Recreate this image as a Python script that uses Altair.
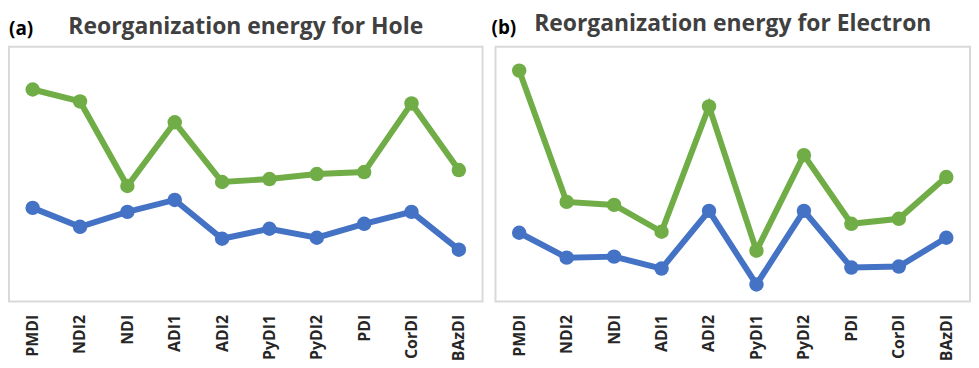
import altair as alt
import pandas as pd

molecules = ["PMDI", "NDI2", "NDI", "ADI1", "ADI2", "PyDI1", "PyDI2", "PDI", "CorDI", "BAzDI"]
series_names = ["Series 1", "Series 2"]
# relative heights (no y axis in the original)
hole_s1 = [213, 201, 116, 180, 120, 123, 128, 130, 199, 132]
hole_s2 = [94, 75, 90, 102, 63, 73, 64, 78, 90, 52]
elec_s1 = [232, 100, 97, 70, 196, 51, 147, 78, 83, 125]
elec_s2 = [69, 44, 45, 33, 91, 17, 91, 34, 35, 64]
titles = ["Reorganization energy for Hole", "Reorganization energy for Electron"]
panel_tags = ["(a)", "(b)"]
colors = ["#70AD47", "#4472C4"]


def make_df(s1, s2):
    rows = []
    for name, vals in zip(series_names, [s1, s2]):
        for m, v in zip(molecules, vals):
            rows.append({"molecule": m, "series": name, "value": v})
    return pd.DataFrame(rows)


def panel(df, title, tag, width, title_y, tag_x, tag_y):
    base = alt.Chart(df).mark_line(
        strokeWidth=6,
        point=alt.OverlayMarkDef(size=210, filled=True, opacity=1),
    ).encode(
        x=alt.X(
            "molecule:N",
            sort=molecules,
            scale=alt.Scale(type="point", padding=0.5),
            axis=alt.Axis(
                title=None, labelAngle=-90, labelFont="Open Sans", labelFontSize=16,
                labelFontWeight="bold", labelColor="#262626", ticks=False,
                domain=False, grid=False, labelPadding=13,
            ),
        ),
        y=alt.Y("value:Q", scale=alt.Scale(domain=[0, 256], nice=False, zero=True), axis=None),
        color=alt.Color("series:N", scale=alt.Scale(domain=series_names, range=colors), legend=None),
        detail="series:N",
    )
    tag_chart = alt.Chart(pd.DataFrame({"tag": [tag]})).mark_text(
        font="Open Sans", fontSize=19, fontWeight="bold", color="#000000",
        align="left", baseline="middle",
    ).encode(text="tag:N", x=alt.value(tag_x), y=alt.value(tag_y))
    title_chart = alt.Chart(pd.DataFrame({"title": [title]})).mark_text(
        font="Open Sans", fontSize=23, fontWeight="bold", color="#404040",
        align="center", baseline="alphabetic",
    ).encode(text="title:N", x=alt.value(width / 2), y=alt.value(title_y))
    return alt.layer(base, tag_chart, title_chart).properties(width=width, height=256)


pa = panel(make_df(hole_s1, hole_s2), titles[0], panel_tags[0], 476, -13, 0, -18)
pb = panel(make_df(elec_s1, elec_s2), titles[1], panel_tags[1], 477, -16, -4, -19)

chart = alt.hconcat(pa, pb, spacing=13, bounds="flush").properties(
    padding={"top": 3, "left": 0, "right": 0, "bottom": 0}
).configure_view(stroke="#d9d9d9", strokeWidth=2)

chart.save("out.html", embed_options={"renderer": "svg", "actions": False})
